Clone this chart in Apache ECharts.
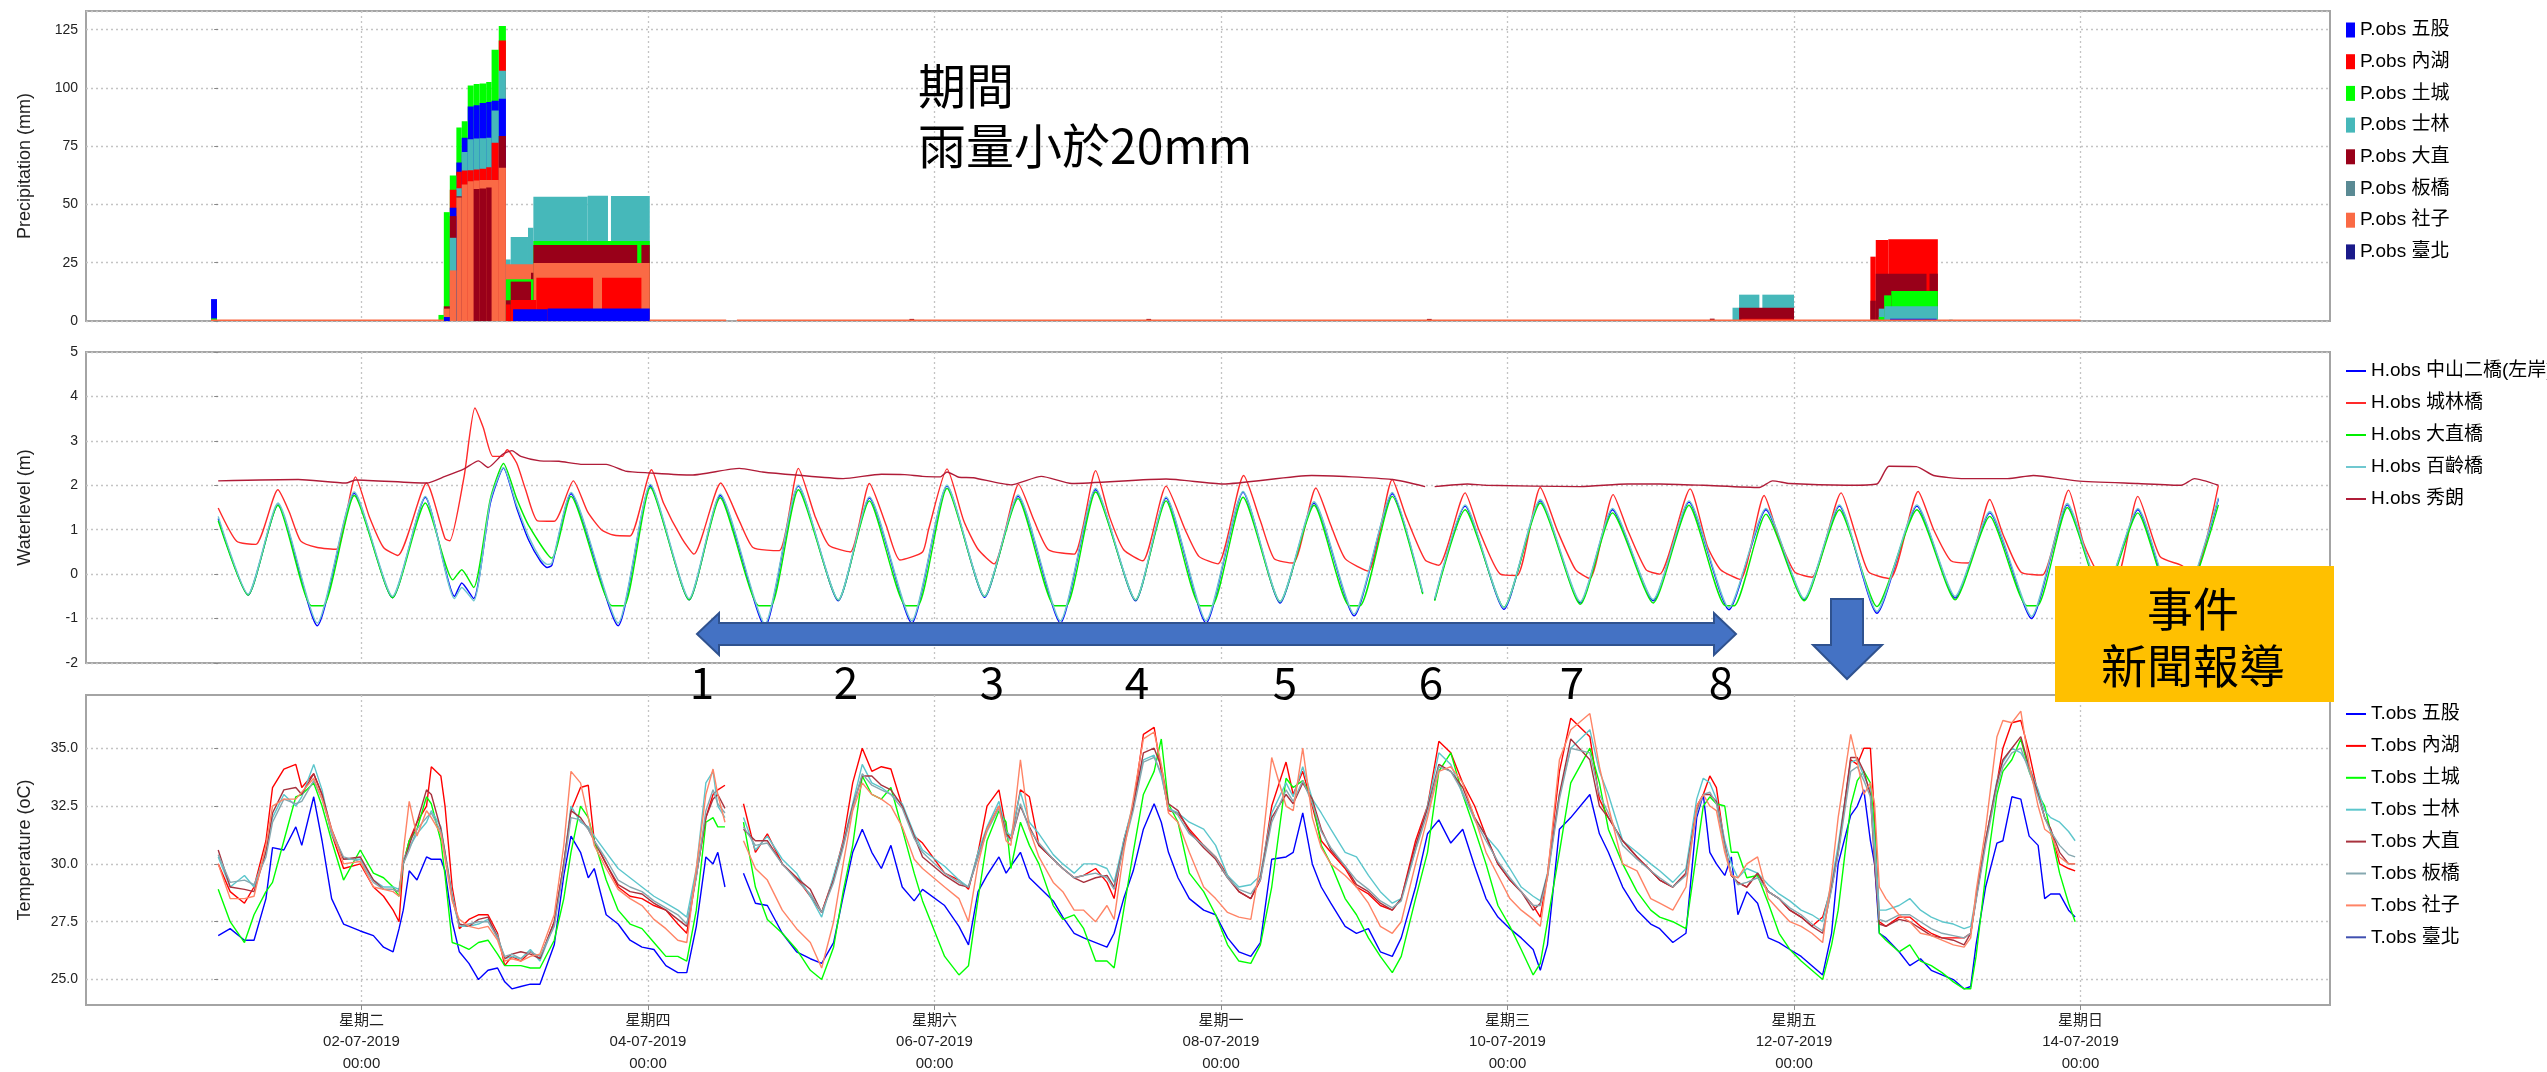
<!DOCTYPE html>
<html><head><meta charset="utf-8">
<script src="https://cdn.jsdelivr.net/npm/echarts@6/dist/echarts.min.js"></script>
<style>html,body{margin:0;padding:0;background:#fff;overflow:hidden}#c{width:2547px;height:1072px}</style>
</head><body><div id="c"></div>
<script>
const FONT = "'Liberation Sans','Noto Sans CJK TC',Arial,sans-serif";
const CJK = "'Noto Sans CJK TC','Liberation Sans',sans-serif";

// x values: hours since 2019-07-01 00:00
const xMinHour = -22.15, xMaxHour = 353.8;
const xTickHours = [24, 72, 120, 168, 216, 264, 312];
const xTickWeekdays = ['星期二','星期四','星期六','星期一','星期三','星期五','星期日'];
const xTickDates = ['02-07-2019','04-07-2019','06-07-2019','08-07-2019','10-07-2019','12-07-2019','14-07-2019'];
const xTickTimes = ['00:00','00:00','00:00','00:00','00:00','00:00','00:00'];

const stations = ['五股','內湖','土城','士林','大直','板橋','社子','臺北'];

// ---------- Precipitation: [startHour, endHour, mm] ----------
const pWugu = [[-1.2,-0.2,9.4],[37.8,38.8,1.7],[38.8,39.9,48.6],[39.9,40.8,68],[40.8,41.8,78.6],[41.8,42.8,92],[42.8,43.8,92.6],[43.8,44.9,93.5],[44.9,45.8,94],[45.8,47.0,94.5],[47.0,48.2,95.3],[49.4,55.2,5.0],[55.2,72.3,5.4],[280.1,287.9,1.0]];
const pNeihu = [[38.8,39.9,56.3],[39.9,40.8,64],[40.8,41.8,64.6],[41.8,42.8,64.7],[42.8,43.8,65],[43.8,44.9,65.3],[44.9,45.8,66],[45.8,47.0,76.5],[47.0,48.2,120.3],[48.2,49.0,7.1],[49.0,53.3,9.0],[53.3,62.8,18.6],[64.3,70.9,18.6],[255.2,263.8,1.0],[276.8,277.7,27.6],[277.7,279.8,34.8],[279.8,288.1,35.1]];
const pTucheng = [[-1.2,-0.2,1.1],[36.9,37.8,2.6],[37.8,38.8,46.7],[38.8,39.9,62.4],[39.9,40.8,83],[40.8,41.8,85.7],[41.8,42.8,101],[42.8,43.8,101.7],[43.8,44.9,101.9],[44.9,45.8,102.5],[45.8,47.0,116.4],[47.0,48.2,126.6],[48.2,52.8,17.9],[52.8,72.3,34.3],[278.2,279.1,1.7],[279.1,280.3,11.0],[280.3,288.1,12.9]];
const pShilin = [[38.8,39.9,35.7],[39.9,40.8,57],[40.8,41.8,72.5],[41.8,42.8,78],[42.8,43.8,78.3],[43.8,44.9,78.4],[44.9,45.8,78.6],[45.8,47.0,90.3],[47.0,48.2,107.4],[48.2,49.0,26.4],[49.0,51.9,36],[51.9,52.8,40],[52.8,61.9,53.3],[61.9,65.3,53.7],[65.8,72.3,53.6],[253.7,254.8,5.7],[254.8,258.2,11.3],[258.7,264,11.3],[278.2,279.2,5.3],[279.2,288.1,6.3],[290,290.6,0.6]];
const pDazhi = [[37.8,38.8,6.3],[38.8,39.9,45],[39.9,40.8,53.5],[42.8,43.8,56.6],[43.8,44.9,56.8],[44.9,45.8,57.3],[47.0,48.2,79.4],[48.2,49.0,8.9],[49.0,52.4,16.9],[52.4,52.8,20.7],[52.8,70.2,32.6],[70.9,72.3,32.6],[115.8,116.6,0.9],[155.5,156.3,0.9],[202.5,203.3,0.9],[249.9,250.7,1.0],[254.8,264,5.7],[276.8,277.7,8.7],[277.7,286.2,20.3],[286.2,286.7,13],[286.7,288.1,20.3]];
const pBanqiao = [];
const pShezi = [[-1.2,37.8,0.6],[37.8,38.8,5.3],[38.8,39.9,21.7],[39.9,40.8,53],[40.8,41.8,58.6],[41.8,42.8,60],[42.8,43.8,60.3],[43.8,47.0,60.5],[47.0,48.2,65.7],[48.2,52.8,24.3],[52.8,72.3,24.9],[72.3,85.1,0.6],[86.9,312,0.6]];
const pTaipei = [[285.9,286.7,0.7]];
const precipData = [pWugu,pNeihu,pTucheng,pShilin,pDazhi,pBanqiao,pShezi,pTaipei];
const precipColors = ['#0000ff','#ff0000','#00ff00','#46b8ba','#990019','#5a8a94','#fa6a45','#1a1a8a'];

// ---------- Water level: [hour, m] ----------
const wlZhongshan = [[0,1.25],[5,-0.47],[10,1.56],[16.6,-1.16],[22.8,1.82],[29.2,-0.53],[34.7,1.73],[39.6,-0.5],[40.8,-0.2],[42.8,-0.55],[45.6,1.6],[47.8,2.39],[50,1.49],[52,0.77],[54,0.29],[55.1,0.15],[55.9,0.2],[59.1,1.81],[67,-1.16],[72.4,1.99],[78.9,-0.58],[84.1,1.77],[91.6,-1.18],[97.2,1.98],[103.9,-0.6],[109.1,1.71],[116.2,-1.1],[122.1,1.98],[128.4,-0.52],[134,1.75],[141.1,-1.1],[147,1.9],[153.7,-0.6],[158.8,1.71],[165.5,-1.1],[171.7,1.84],[177.9,-0.65],[183.6,1.6],[190.3,-0.94],[196.7,1.81],[201.8,-0.43],[202.8,null],[203.8,-0.58],[208.9,1.53],[215.4,-0.79],[221.5,1.65],[228.2,-0.65],[233.6,1.45],[240.4,-0.6],[246.4,1.62],[253.1,-0.8],[259.3,1.45],[265.7,-0.58],[271.6,1.53],[277.9,-0.88],[284.6,1.53],[291,-0.54],[296.8,1.38],[303.8,-1.0],[309.8,1.56],[315.8,-0.55],[321.6,1.45],[328.2,-0.98],[335.1,1.69]];
const wlChenglin = [[0,1.49],[3.1,0.74],[6.3,0.67],[10,1.9],[11.9,1.4],[13.8,0.75],[16.6,0.6],[19.8,0.56],[23,2.19],[25.3,1.3],[27.7,0.6],[30.1,0.42],[34.9,2.05],[38,0.8],[38.8,0.75],[41.2,2.2],[43,3.74],[44.4,3.3],[46,2.65],[47.6,2.65],[48.4,2.8],[50,2.5],[51.5,1.9],[53.5,1.2],[56.3,1.19],[59.5,2.1],[61.9,1.4],[64.2,1.0],[66.2,0.88],[69,0.86],[72.6,2.35],[74.6,1.6],[77.7,0.8],[79.7,0.45],[84.2,2.05],[87.3,1.2],[89.6,0.6],[94,0.53],[97.2,2.38],[100,1.3],[102.3,0.65],[105.9,0.5],[109.1,2.04],[111.9,1.1],[114.2,0.32],[118,0.5],[119,1.0],[122.1,2.37],[124.9,1.2],[127.3,0.56],[130,0.23],[134.1,2.02],[136.7,1.2],[139.1,0.55],[143.4,0.45],[147,2.33],[149.3,1.3],[151.7,0.55],[154.9,0.3],[158.8,1.98],[162,1.0],[164.3,0.4],[167.5,0.23],[171.8,2.22],[174.6,1.2],[176.9,0.35],[180.1,0.25],[183.9,1.94],[186.4,1.1],[188.8,0.35],[192.7,0.07],[196.7,2.13],[199,1.3],[202.2,0.32],[204.5,0.2],[208.9,1.83],[211.2,1.0],[214.8,0.0],[217.6,-0.03],[221.5,1.95],[224.3,1.0],[227.4,0.1],[229.8,-0.1],[233.7,1.79],[236.1,1.0],[239.2,0.1],[241.5,0.0],[246.6,1.92],[249.5,0.62],[251.7,0.1],[255,-0.12],[259,1.77],[261.5,0.8],[264.1,0.05],[267,-0.07],[271.9,1.83],[274.3,0.9],[276.5,0.05],[280.1,-0.1],[284.8,1.86],[287.4,1.0],[290.3,0.3],[293.2,0.25],[296.8,1.68],[299,0.9],[302,0.05],[305.6,-0.02],[310,1.89],[312.5,0.7],[315.1,0.0],[318,-0.1],[321.6,1.75],[325.3,0.4],[328.9,0.2],[331.1,0.0],[335.1,2.0]];
const wlDazhiBr = [[0,1.2],[5,-0.47],[10,1.55],[15.6,-0.71],[17.6,-0.71],[22.8,1.77],[29.2,-0.53],[34.7,1.6],[39.3,-0.13],[40.8,0.1],[42.8,-0.3],[45.6,1.7],[47.8,2.49],[50,1.7],[52,1.1],[55.9,0.36],[59.1,1.75],[66,-0.71],[68,-0.71],[72.4,1.95],[78.9,-0.58],[84.1,1.72],[90.6,-0.71],[92.6,-0.71],[97.2,1.9],[103.9,-0.58],[109.1,1.65],[115.2,-0.71],[117.2,-0.71],[122.1,1.93],[128.4,-0.5],[134,1.7],[140.1,-0.71],[142.1,-0.71],[147,1.85],[153.7,-0.58],[158.8,1.65],[164.5,-0.71],[166.5,-0.71],[171.7,1.73],[177.9,-0.62],[183.6,1.55],[189.5,-0.71],[191.3,-0.71],[196.7,1.75],[201.8,-0.45],[202.8,null],[203.8,-0.6],[208.9,1.45],[215.4,-0.75],[221.5,1.6],[228.2,-0.68],[233.6,1.38],[240.4,-0.65],[246.4,1.55],[252.5,-0.71],[254,-0.71],[259.3,1.35],[265.7,-0.6],[271.6,1.45],[277.9,-0.73],[284.6,1.45],[291,-0.58],[296.8,1.3],[303,-0.71],[304.8,-0.71],[309.8,1.5],[315.8,-0.58],[321.6,1.38],[327.5,-0.71],[329,-0.71],[335.1,1.56]];
const wlBailing = [[0,1.3],[5,-0.45],[10,1.6],[16.6,-1.1],[22.8,1.85],[29.2,-0.5],[34.7,1.75],[39.6,-0.55],[40.8,-0.3],[42.8,-0.6],[45.6,1.65],[47.8,2.4],[50,1.55],[52,0.85],[54,0.35],[55.1,0.22],[55.9,0.25],[59.1,1.84],[67,-1.1],[72.4,2.02],[78.9,-0.55],[84.1,1.8],[91.6,-1.12],[97.2,2.0],[103.9,-0.58],[109.1,1.74],[116.2,-1.05],[122.1,2.0],[128.4,-0.5],[134,1.78],[141.1,-1.05],[147,1.93],[153.7,-0.58],[158.8,1.74],[165.5,-1.05],[171.7,1.86],[177.9,-0.62],[183.6,1.63],[190.3,-0.9],[196.7,1.84],[201.8,-0.4],[202.8,null],[203.8,-0.55],[208.9,1.56],[215.4,-0.76],[221.5,1.68],[228.2,-0.62],[233.6,1.48],[240.4,-0.57],[246.4,1.65],[253.1,-0.76],[259.3,1.48],[265.7,-0.55],[271.6,1.56],[277.9,-0.84],[284.6,1.56],[291,-0.5],[296.8,1.41],[303.8,-0.95],[309.8,1.59],[315.8,-0.52],[321.6,1.48],[328.2,-0.93],[335.1,1.72]];
const wlXiulang = [[0,2.1],[13.4,2.13],[21.4,2.05],[23,2.12],[34.9,2.05],[38,2.2],[41.2,2.37],[43.6,2.55],[45.2,2.4],[47.6,2.69],[49.2,2.78],[50.7,2.65],[53.9,2.55],[57.1,2.54],[61.1,2.47],[65,2.47],[68.2,2.32],[72.2,2.28],[79.3,2.23],[87.3,2.38],[91.2,2.3],[96.8,2.23],[104.7,2.15],[111.1,2.25],[115,2.24],[118,2.2],[121,2.19],[122.1,2.3],[124.1,2.18],[126.5,2.17],[132.8,2.01],[137.9,2.2],[143,2.04],[158.8,2.14],[168.3,2.03],[183.2,2.22],[196.7,2.13],[202.2,1.97],[202.8,null],[203.8,1.97],[209.3,2.03],[212.4,2.0],[228.2,1.97],[236.1,2.03],[241.5,2.03],[248.8,2.0],[258.2,1.95],[260.4,2.1],[263.3,2.04],[272.8,2.0],[277.9,2.03],[279.9,2.43],[284.5,2.42],[287.4,2.22],[292.5,2.15],[299.8,2.15],[304.1,2.22],[311.4,2.1],[321.6,2.04],[328.9,2.0],[331.1,2.15],[335.1,2.0]];
const waterNames = ['H.obs 中山二橋(左岸)','H.obs 城林橋','H.obs 大直橋','H.obs 百齡橋','H.obs 秀朗'];
const waterData = [wlZhongshan, wlChenglin, wlDazhiBr, wlBailing, wlXiulang];
const waterColors = ['#0000ff','#ff2a2a','#00ee00','#70c8d0','#b01c38'];

// ---------- Temperature: shared hours + one value list per station ----------
const tHours = [
0,2,4.4,6,8,9.1,11,13,14,16,17.4,19,21,23.8,
26,27.7,29.3,30.3,31,32,33.3,34.9,35.7,37.3,38,39.2,40.4,42,43.6,45.2,46.8,
48,49.2,50.7,52.3,53.9,56.3,57.9,59.1,60.7,62,63,65,67,69,71,
73,75,77,78.5,80.1,81.7,82.9,83.7,84.9,86.5,88,90,92,94.5,
96.9,99.2,101.1,103.1,104.7,106.3,107.9,109.5,111.1,112.7,114.6,116.6,118,
121.7,124.1,125.7,127.3,128.8,130.8,132,132.8,134.4,135.9,137.5,139.9,141.5,
143.4,145,147,148.9,150.1,151.7,153.3,155,156.8,158,159.2,160.8,162.7,165.1,
167.1,169.1,171,173,174.6,176.5,178.9,180.1,181.7,183.3,184.8,186.4,188.8,
190.7,192.7,194.7,196.7,198.2,200.6,202.6,204.5,206.5,208.5,210.5,212.4,
214.4,216.4,218.3,220.3,221.5,222.7,224.7,226.6,229.8,231.4,232.9,235.3,237.7,
240,241.5,243.7,245.9,247.7,248.8,249.9,251,252.4,253.5,254.6,256.1,257.9,259.7,261.5,
263.3,265.2,267,268.8,270.3,271.4,273.5,274.6,275.7,276.8,277.5,278.3,279.4,281.6,283.4,285.2,287,
288.8,290.7,292.5,293.6,294.5,296.1,298,299,300.5,302,303.4,304.9,306,307,308.5,310,311.1];
const tWugu = [
26.9,27.2,26.7,26.7,28.5,30.7,30.6,31.6,30.8,32.9,31.0,28.5,27.4,27.1,
26.9,26.4,26.2,27.2,28.0,29.7,29.3,30.3,30.2,30.2,29.7,27.5,26.2,25.7,25.0,25.4,25.5,
24.9,24.6,24.7,24.8,24.8,26.5,29.5,31.2,30.5,29.4,29.8,27.8,27.4,26.7,26.4,
26.3,25.6,25.3,25.3,27.3,30.3,30.0,30.5,29.0,null,29.6,28.3,28.2,27.0,
26.2,25.9,25.7,26.6,28.6,30.5,31.5,30.5,29.8,30.8,29.0,28.4,28.9,
28.2,27.3,26.5,28.8,29.5,30.3,29.6,29.9,30.5,29.4,29.0,28.4,27.7,
27.0,26.8,26.6,26.4,27.0,28.5,29.7,31.5,32.6,31.8,30.5,29.4,28.5,28.0,
27.8,26.8,26.2,26.0,26.6,30.2,30.3,30.5,32.2,30.0,29.0,28.3,27.3,
27.0,27.2,26.2,26.0,26.8,29.0,31.3,31.9,30.9,31.5,29.9,28.5,
27.7,27.2,26.8,26.3,25.4,26.5,31.5,32.0,33.0,31.3,30.5,29.0,28.0,
27.4,27.2,26.6,27.0,32.0,33.0,30.5,30.0,29.5,30.3,27.8,28.8,28.3,26.8,26.6,
26.3,26.0,25.6,25.2,27.0,30.0,32.1,32.5,33.2,31.0,30.0,27.0,26.8,26.2,25.6,25.9,25.4,
25.2,25.0,24.6,24.7,26.5,29.0,30.9,31.0,32.9,32.8,31.2,30.8,28.5,28.7,28.7,28.0,27.7];
const tNeihu = [
30.0,28.8,28.3,29.0,31.0,33.3,34.1,34.3,33.3,33.9,33.0,31.3,29.8,30.0,
29.0,28.6,28.0,27.5,30.0,31.0,31.8,32.5,34.2,33.8,32.5,29.0,27.2,27.6,27.8,27.8,27.0,
25.6,26.0,25.8,26.2,25.9,27.5,30.0,32.3,33.3,33.4,31.0,30.0,29.0,28.6,28.5,
28.2,28.0,27.4,27.0,29.5,32.0,33.0,33.2,33.4,null,32.6,30.5,31.3,30.0,
29.4,28.6,27.9,29.4,31.0,33.5,35.0,34.0,34.2,34.1,32.5,31.2,30.9,
29.6,29.3,28.9,30.5,32.5,33.2,31.5,31.0,33.2,32.9,30.8,30.2,29.8,
29.4,29.5,29.8,29.2,28.5,31.0,32.5,35.6,35.9,34.0,32.3,32.2,31.5,30.8,
30.3,29.5,28.8,28.5,29.3,32.5,34.4,33.0,34.0,32.5,31.0,30.5,29.8,
29.0,28.7,28.2,28.0,28.5,31.0,32.5,35.3,34.8,33.5,32.5,31.2,
30.0,29.3,28.8,28.2,27.7,29.5,34.0,36.3,35.5,32.8,32.0,31.0,30.3,
29.7,29.3,29.0,29.6,32.5,33.0,33.8,33.3,30.8,29.5,29.2,29.0,29.6,28.8,28.5,
28.0,27.7,27.3,27.7,29.0,30.5,34.5,34.3,35.0,35.0,32.0,27.5,27.3,27.7,27.7,27.3,27.0,
26.8,26.8,26.8,27.0,28.5,31.0,33.5,35.0,36.1,36.2,34.8,33.0,32.0,31.5,30.0,29.8,29.7];
const tTucheng = [
28.9,27.5,26.6,27.8,28.8,29.2,31.0,32.9,33.0,33.5,32.5,31.0,29.3,30.6,
29.6,29.4,29.0,28.6,30.0,31.0,31.5,32.9,32.6,31.0,29.5,26.6,26.5,26.3,26.6,26.7,26.1,
25.6,25.6,25.6,25.5,25.5,26.7,28.5,30.5,32.5,32.0,31.0,29.3,28.0,27.4,27.2,
26.6,26.0,26.0,25.8,28.0,31.8,32.0,31.6,31.6,null,31.8,29.0,27.6,27.0,
26.3,25.4,25.0,26.4,28.8,30.8,33.8,33.0,32.8,33.3,31.5,29.6,28.4,
26.0,25.2,25.6,28.5,31.0,32.3,31.8,29.8,31.8,30.8,30.0,28.2,27.6,
27.8,27.2,25.8,25.8,25.5,28.0,30.5,33.0,34.0,35.4,32.6,31.8,29.6,28.8,
27.8,26.5,25.8,25.7,26.5,29.0,33.7,33.3,33.6,32.8,30.8,30.0,28.5,
27.8,26.8,26.0,25.3,26.0,28.5,30.5,34.0,34.8,33.0,31.5,30.0,
28.2,27.3,26.3,25.2,25.7,27.5,30.5,33.5,35.0,33.5,31.5,30.0,28.8,
28.0,27.7,27.5,27.2,30.5,32.5,32.9,32.6,32.5,30.5,30.5,29.4,29.5,28.3,27.0,
26.3,25.8,25.4,25.0,26.5,28.0,32.5,33.6,34.0,33.5,31.5,27.0,26.7,26.2,26.5,25.8,25.6,
25.3,24.9,24.6,24.6,26.0,29.5,33.0,34.0,34.5,35.4,34.0,33.0,32.5,31.4,29.6,28.3,27.5];
const tShilin = [
30.3,29.0,29.5,29.0,30.6,32.0,33.0,32.5,32.9,34.3,33.2,31.3,30.2,30.2,
29.3,29.0,29.0,28.9,30.2,30.7,31.3,31.8,32.3,31.6,30.5,28.7,27.3,27.3,27.4,27.6,26.9,
25.9,26.0,25.9,26.3,25.8,27.4,30.0,32.5,31.8,31.6,31.2,30.5,29.8,29.4,29.0,
28.6,28.3,28.0,27.7,29.8,33.5,34.0,32.5,32.0,null,32.0,30.6,31.2,30.2,
29.6,28.6,27.7,29.5,30.9,32.6,34.3,33.5,33.3,33.0,32.6,31.3,30.6,
29.9,29.3,29.0,30.5,31.6,32.7,31.4,31.2,33.1,31.8,31.3,30.4,30.0,
29.6,30.0,30.0,29.8,29.2,31.0,32.6,34.5,34.7,33.8,32.4,32.2,31.8,31.5,
30.8,29.5,29.0,29.1,29.5,32.2,33.5,32.9,34.2,32.8,32.2,31.5,30.5,
30.3,29.5,28.8,28.3,28.5,30.6,32.5,34.8,34.3,33.0,32.0,31.2,
30.6,29.8,29.0,28.6,28.4,29.6,33.0,35.0,35.8,34.0,33.0,31.0,30.5,
30.0,29.7,29.2,29.8,32.8,33.7,33.5,32.8,31.0,30.0,29.4,29.8,29.6,29.1,28.7,
28.4,28.0,27.8,27.5,29.2,30.8,34.4,34.5,33.8,33.2,31.0,28.0,28.0,28.2,28.5,28.0,27.7,
27.5,27.4,27.2,27.3,28.6,31.0,33.6,34.4,35.0,34.8,34.2,33.2,32.3,32.0,31.8,31.4,31.0];
const tDazhi = [
30.6,29.0,28.9,28.8,30.5,32.2,33.2,33.3,33.0,33.9,33.0,31.5,30.2,30.3,
29.3,28.9,28.9,28.8,30.0,30.8,31.8,33.2,33.0,31.5,30.5,28.5,27.4,27.3,27.6,27.7,26.8,
25.9,26.1,26.2,26.1,25.9,27.5,30.0,32.3,32.0,31.5,31.0,30.0,29.1,28.8,28.7,
28.3,28.0,27.6,27.3,29.5,32.0,32.8,33.0,32.4,null,31.5,31.0,31.0,30.0,
29.4,28.9,27.9,29.3,30.8,32.5,33.8,33.8,33.4,33.2,32.5,31.2,30.3,
29.5,29.1,29.0,30.3,31.5,32.5,31.3,31.0,32.5,31.6,30.8,30.2,29.8,
29.4,29.2,29.4,29.5,29.0,30.8,32.5,34.8,35.0,34.2,32.6,32.3,31.4,30.7,
30.2,29.4,28.8,28.5,29.4,32.0,33.0,32.6,33.5,32.8,31.5,30.6,29.9,
29.1,28.8,28.3,28.0,28.5,30.8,32.4,34.3,34.0,33.3,32.0,31.2,
30.0,29.3,28.8,28.0,28.3,29.5,33.0,35.4,34.5,32.5,32.0,31.0,30.3,
29.7,29.3,29.0,29.6,32.3,33.0,33.0,32.7,30.8,29.5,29.2,29.0,29.6,28.8,28.5,
28.0,27.7,27.3,27.0,29.0,30.5,34.6,34.6,34.0,33.0,30.0,27.4,27.3,27.6,27.5,27.2,26.9,
26.8,26.7,26.5,27.0,28.5,31.0,33.5,34.5,35.0,35.5,34.2,33.0,32.0,31.5,30.5,30.0,30.0];
const tBanqiao = [
30.4,29.2,29.3,29.1,30.3,31.8,32.8,32.6,32.7,33.6,32.8,31.4,30.3,30.1,
29.2,28.9,28.9,28.8,30.0,30.6,31.5,32.0,32.2,31.4,30.4,28.5,27.3,27.4,27.5,27.5,26.8,
26.0,26.1,25.9,26.2,26.0,27.3,29.8,32.0,31.9,31.5,31.0,30.2,29.3,29.0,28.8,
28.4,28.1,27.8,27.4,29.4,32.3,33.2,32.6,32.2,null,31.6,30.8,30.9,30.0,
29.3,28.7,27.9,29.2,30.7,32.4,33.9,33.4,33.2,33.0,32.4,31.1,30.5,
29.6,29.2,29.0,30.3,31.4,32.4,31.2,31.0,32.6,31.5,30.9,30.2,29.8,
29.4,29.5,29.6,29.4,28.9,30.7,32.3,34.4,34.6,33.9,32.4,32.1,31.3,30.8,
30.3,29.4,28.9,28.7,29.3,31.8,33.2,32.7,33.6,32.6,31.4,30.7,29.9,
29.3,28.9,28.4,28.1,28.4,30.6,32.2,34.2,34.0,33.1,31.9,31.0,
30.1,29.4,28.8,28.2,28.2,29.4,32.8,35.0,34.8,33.0,32.2,30.8,30.2,
29.7,29.4,29.0,29.5,32.2,33.0,33.1,32.6,30.7,29.6,29.1,29.2,29.4,28.8,28.5,
28.1,27.8,27.4,27.1,28.9,30.4,34.0,34.2,33.6,32.9,30.4,27.6,27.5,27.8,27.8,27.5,27.2,
27.0,26.9,26.8,27.0,28.4,30.8,33.3,34.2,34.8,35.0,34.0,32.9,32.0,31.4,30.8,30.4,30.3];
const tShezi = [
30.0,28.5,28.5,28.6,30.8,32.5,32.8,32.8,33.1,33.7,32.8,31.5,30.0,30.1,
29.0,28.9,28.8,28.6,30.5,32.7,31.2,32.3,32.0,31.3,30.2,28.4,27.6,27.3,27.2,27.3,26.7,
25.8,25.9,25.8,26.0,26.1,27.8,30.8,34.0,33.5,32.0,30.8,29.8,28.9,28.5,28.2,
27.6,27.2,26.7,26.6,29.8,33.0,34.1,33.0,31.8,null,31.0,29.8,29.3,28.0,
27.2,26.6,25.5,27.5,30.0,32.3,33.5,33.0,32.8,32.5,31.6,30.2,29.8,
29.0,28.5,27.5,30.0,31.5,32.5,31.0,30.8,34.5,31.5,30.3,29.2,28.8,
28.0,28.0,27.5,28.2,27.6,30.5,32.8,35.4,35.7,34.3,32.2,31.8,30.5,29.0,
28.5,27.9,27.7,27.6,30.0,34.6,32.5,32.3,35.0,32.0,30.7,30.0,29.5,
29.0,28.3,27.3,27.0,27.5,30.0,32.0,34.0,34.2,33.5,32.0,30.5,
29.5,28.5,28.0,27.6,27.3,29.5,34.5,35.8,36.5,34.2,32.5,30.0,29.7,
28.5,28.3,28.0,29.0,32.5,33.0,32.5,32.3,30.5,29.5,29.4,30.0,30.3,28.5,28.0,
27.5,27.3,27.0,26.6,29.5,32.0,35.6,34.4,33.0,33.5,32.6,29.0,28.5,27.8,27.5,27.0,26.9,
26.7,26.5,26.4,26.8,28.8,31.5,35.5,36.2,36.1,36.6,34.3,32.5,31.5,31.3,30.3,30.0,30.0];
const tTaipei = [];
const tempData = [tWugu,tNeihu,tTucheng,tShilin,tDazhi,tBanqiao,tShezi,tTaipei];
const tempColors = ['#0000ff','#ff0000','#00ff00','#5cc6cc','#a8323e','#86a8b0','#ff8466','#4050b0'];

// ---------- chart ----------
const precipNames = stations.map(s => 'P.obs ' + s);
const tempNames = stations.map(s => 'T.obs ' + s);

function rainRender(color) {
  return function (params, api) {
    const v = api.value(2);
    const p0 = api.coord([api.value(0), 0]);
    const p1 = api.coord([api.value(1), v]);
    const cs = params.coordSys;
    const shape = echarts.graphic.clipRectByRect(
      {x: p0[0], y: p1[1], width: p1[0] - p0[0], height: p0[1] - p1[1]},
      {x: cs.x, y: cs.y, width: cs.width, height: cs.height});
    if (!shape) return;
    return {type: 'rect', shape: shape, style: {fill: color}, z2: Math.round(5000 - v * 20)};
  };
}

const gridCommon = {left: 86, right: 217, show: true, borderColor: '#a4a4a4', borderWidth: 2, backgroundColor: 'transparent', containLabel: false, outerBoundsMode: 'none'};
const splitStyle = {show: true, lineStyle: {color: '#c4c4c4', width: 1.3, type: [2, 3]}};

function xAxisFor(i) {
  return {
    gridIndex: i, type: 'value', min: xMinHour, max: xMaxHour,
    axisLine: {show: false},
    axisTick: {show: i === 2, customValues: xTickHours, length: 5, lineStyle: {color: '#888'}},
    axisLabel: {show: i === 2, customValues: xTickHours, fontSize: 15, lineHeight: 21.5, margin: 5, color: '#222', fontFamily: FONT,
      formatter: function (v) {
        const k = xTickHours.indexOf(Math.round(v));
        return k < 0 ? '' : xTickWeekdays[k] + '\n' + xTickDates[k] + '\n' + xTickTimes[k];
      }},
    splitLine: splitStyle
  };
}
function yName(name) {
  return {name: name, nameLocation: 'middle', nameGap: 52, nameTextStyle: {fontSize: 18, color: '#222', fontFamily: FONT}};
}
const yLabel = {fontSize: 14, color: '#222', margin: 8, fontFamily: FONT};
const yTick = {show: true, length: 4, lineStyle: {color: '#888'}};

const series = [];
precipData.forEach((runs, i) => {
  series.push({
    name: precipNames[i], type: 'custom', xAxisIndex: 0, yAxisIndex: 0,
    itemStyle: {color: precipColors[i]},
    encode: {x: [0, 1], y: 2},
    renderItem: rainRender(precipColors[i]),
    data: runs
  });
});
waterData.forEach((pts, i) => {
  series.push({
    name: waterNames[i], type: 'line', xAxisIndex: 1, yAxisIndex: 1,
    symbol: 'none', showSymbol: false, smooth: 0.2, connectNulls: false,
    lineStyle: {width: 1.4, color: waterColors[i]}, itemStyle: {color: waterColors[i]},
    data: pts
  });
});
tempData.forEach((vals, i) => {
  series.push({
    name: tempNames[i], type: 'line', xAxisIndex: 2, yAxisIndex: 2,
    symbol: 'none', showSymbol: false, connectNulls: false,
    lineStyle: {width: 1.4, color: tempColors[i]}, itemStyle: {color: tempColors[i]},
    data: vals.map((v, k) => [tHours[k], v])
  });
});

const legendText = {fontSize: 19, color: '#000', fontFamily: FONT, lineHeight: 19};
const annoNumX = [702, 846, 992, 1137, 1285, 1431, 1572, 1721];
const annoNums = ['1','2','3','4','5','6','7','8'];

const graphics = [
  {type: 'text', x: 918, y: 86, z: 100, style: {text: '期間', fontSize: 48, fontFamily: CJK, fill: '#000', verticalAlign: 'middle', align: 'left'}},
  {type: 'text', x: 918, y: 146, z: 100, style: {text: '雨量小於20mm', fontSize: 48, fontFamily: CJK, fill: '#000', verticalAlign: 'middle', align: 'left'}},
  {type: 'polygon', z: 100, shape: {points: [[697,634],[719,613],[719,623],[1714,623],[1714,613],[1736,634],[1714,655],[1714,645],[719,645],[719,655]]},
    style: {fill: '#4472c4', stroke: '#2f528f', lineWidth: 2}},
  {type: 'polygon', z: 100, shape: {points: [[1831,599],[1863,599],[1863,645],[1882,645],[1847,679],[1813,645],[1831,645]]},
    style: {fill: '#4472c4', stroke: '#2f528f', lineWidth: 2}},
  {type: 'rect', z: 100, shape: {x: 2055, y: 566, width: 279, height: 136}, style: {fill: '#ffc000'}},
  {type: 'text', x: 2193, y: 609, z: 101, style: {text: '事件', fontSize: 46, fontFamily: CJK, fill: '#000', align: 'center', verticalAlign: 'middle'}},
  {type: 'text', x: 2193, y: 666, z: 101, style: {text: '新聞報導', fontSize: 46, fontFamily: CJK, fill: '#000', align: 'center', verticalAlign: 'middle'}}
].concat(annoNums.map((t, i) => ({type: 'text', x: annoNumX[i], y: 682, z: 100,
  style: {text: t, fontSize: 44, fontFamily: CJK, fill: '#000', align: 'center', verticalAlign: 'middle'}})));

const option = {
  animation: false,
  backgroundColor: '#fff',
  textStyle: {fontFamily: FONT},
  grid: [
    Object.assign({top: 11, height: 310}, gridCommon),
    Object.assign({top: 352, height: 311}, gridCommon),
    Object.assign({top: 695, height: 310}, gridCommon)
  ],
  xAxis: [xAxisFor(0), xAxisFor(1), xAxisFor(2)],
  yAxis: [
    Object.assign({gridIndex: 0, type: 'value', min: 0, max: 133, interval: 25, axisLine: {show: false}, axisTick: yTick,
      axisLabel: Object.assign({showMaxLabel: false}, yLabel), splitLine: splitStyle}, yName('Precipitation (mm)')),
    Object.assign({gridIndex: 1, type: 'value', min: -2, max: 5, interval: 1, axisLine: {show: false}, axisTick: yTick,
      axisLabel: yLabel, splitLine: splitStyle}, yName('Waterlevel (m)')),
    Object.assign({gridIndex: 2, type: 'value', min: 23.9, max: 37.3, axisLine: {show: false},
      axisTick: Object.assign({customValues: [25, 27.5, 30, 32.5, 35]}, yTick),
      axisLabel: Object.assign({customValues: [25, 27.5, 30, 32.5, 35], formatter: v => v.toFixed(1)}, yLabel),
      splitLine: splitStyle}, yName('Temperature (oC)'))
  ],
  legend: [
    {data: precipNames, orient: 'vertical', left: 2346, top: 20.5, itemWidth: 9, itemHeight: 15, itemGap: 12.7, icon: 'rect', padding: 0, textStyle: legendText, selectedMode: false},
    {data: waterNames, orient: 'vertical', left: 2346, top: 361.5, itemWidth: 20, itemHeight: 2, itemGap: 13, icon: 'rect', padding: 0, textStyle: legendText, selectedMode: false},
    {data: tempNames, orient: 'vertical', left: 2346, top: 704.5, itemWidth: 20, itemHeight: 2, itemGap: 12.9, icon: 'rect', padding: 0, textStyle: legendText, selectedMode: false}
  ],
  graphic: graphics,
  series: series
};
const chart = echarts.init(document.getElementById('c'), null, {renderer: 'canvas'});
chart.setOption(option);
</script></body></html>
